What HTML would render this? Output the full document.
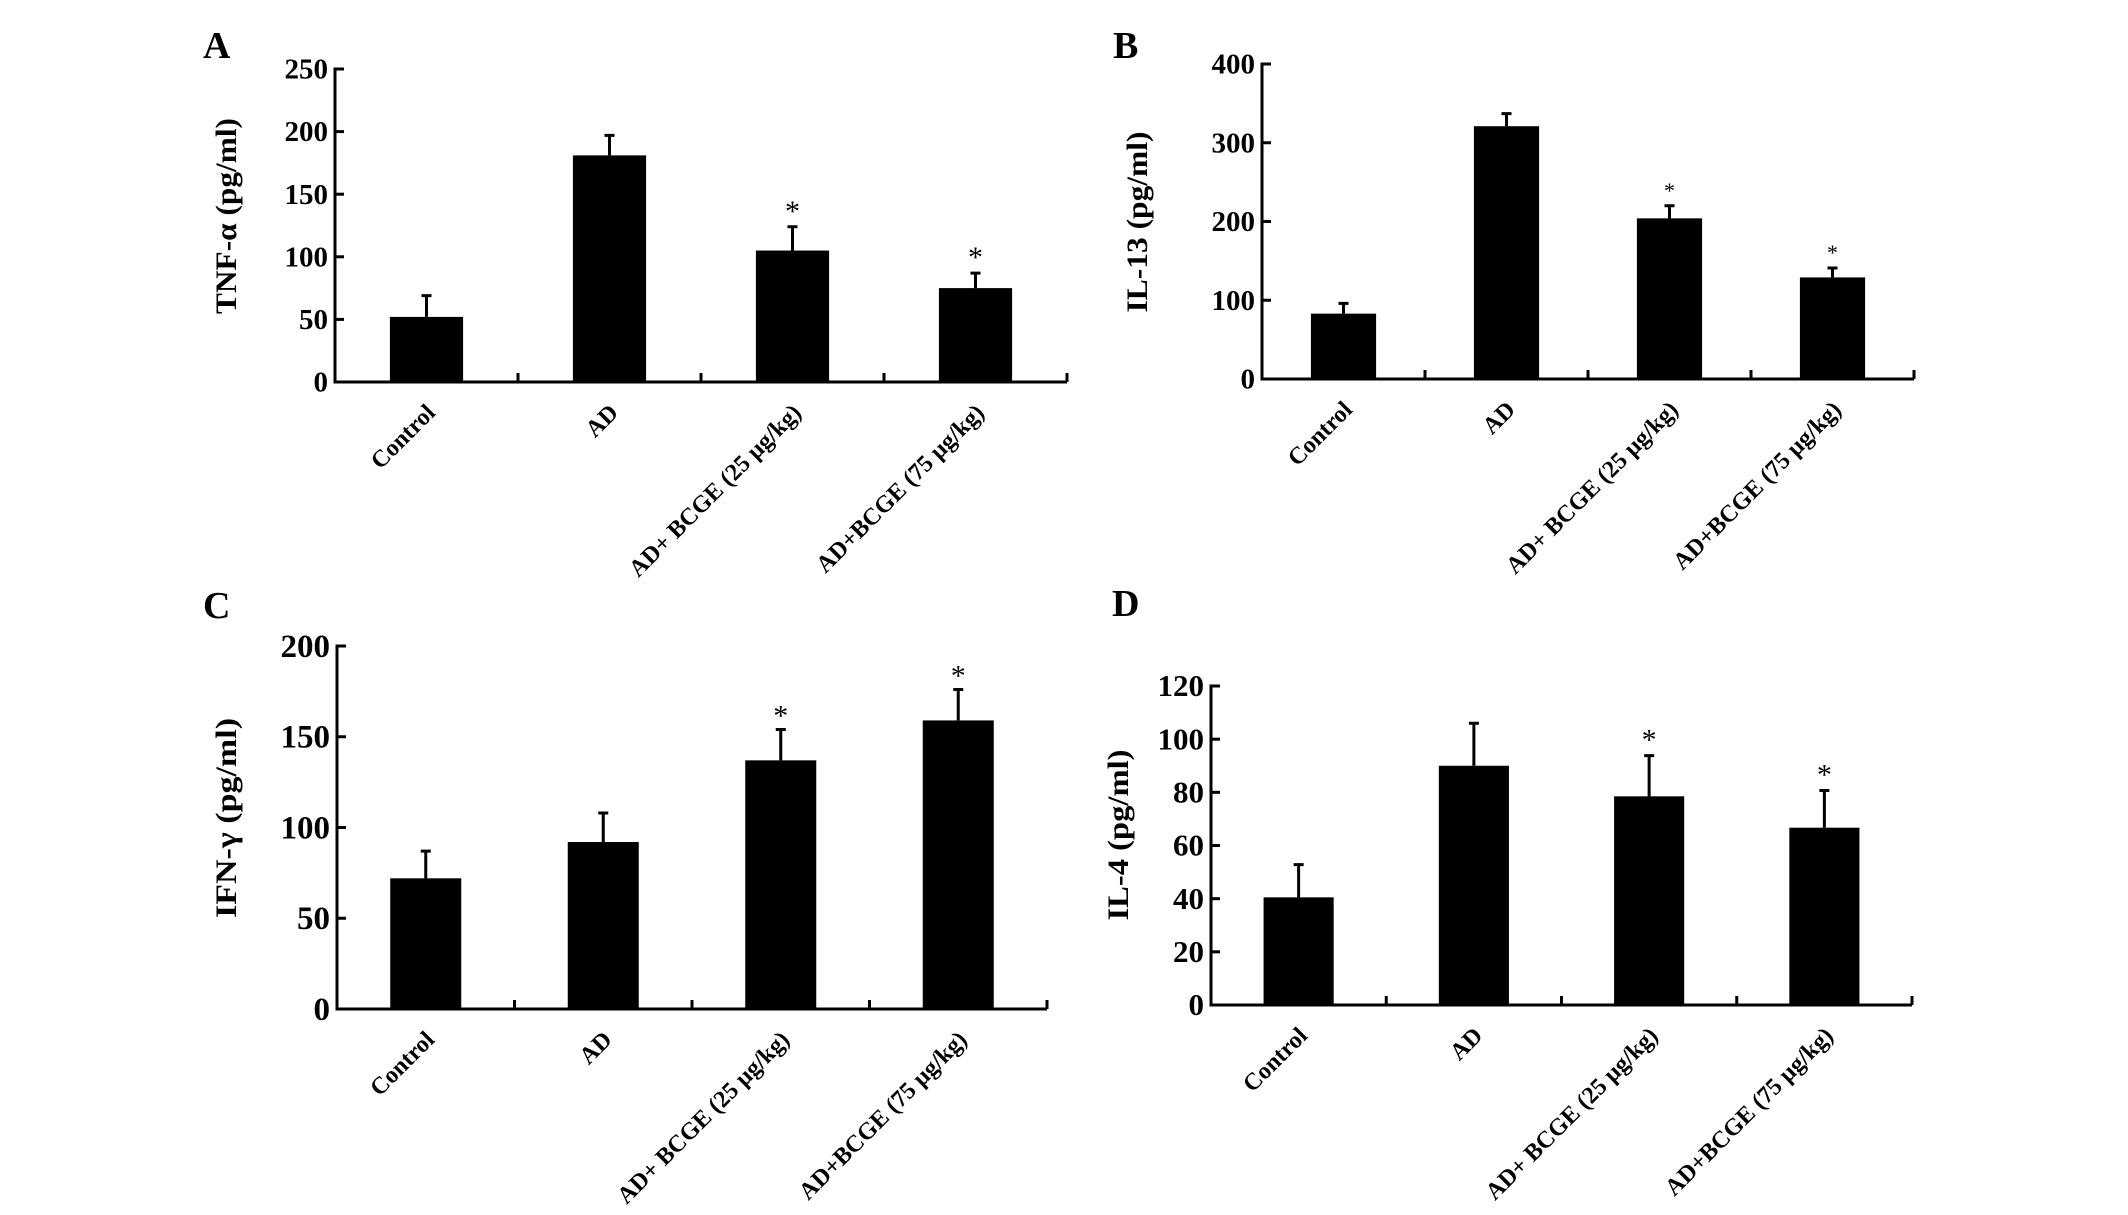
<!DOCTYPE html>
<html><head><meta charset="utf-8"><style>
html,body{margin:0;padding:0;background:#fff;}
svg{display:block;}
text{font-family:"Liberation Serif",serif;font-weight:bold;fill:#000;}
</style></head><body>
<svg id="fig" width="2128" height="1215" viewBox="0 0 2128 1215" xmlns="http://www.w3.org/2000/svg"></svg>
<script>
// ---- data ----
const categories = ["Control","AD","AD+ BCGE (25 \u00b5g/kg)","AD+BCGE (75 \u00b5g/kg)"];
const tnfValues = [52, 181, 105, 75];
const tnfErrors = [17, 16, 19, 12];
const il13Values = [83, 321, 204, 129];
const il13Errors = [13, 16, 16, 12];
const ifnValues = [72, 92, 137, 159];
const ifnErrors = [15, 16, 17, 17];
const il4Values = [40.5, 90, 78.5, 66.7];
const il4Errors = [12.3, 16, 15.3, 14];
const tnfTicks = [0, 50, 100, 150, 200, 250];
const il13Ticks = [0, 100, 200, 300, 400];
const ifnTicks = [0, 50, 100, 150, 200];
const il4Ticks = [0, 20, 40, 60, 80, 100, 120];
const tnfSig = [false, false, true, true];
const il13Sig = [false, false, true, true];
const ifnSig = [false, false, true, true];
const il4Sig = [false, false, true, true];

const NS = "http://www.w3.org/2000/svg";
const svg = document.getElementById("fig");
function mk(tag, attrs, parent) {
  const e = document.createElementNS(NS, tag);
  for (const k in attrs) e.setAttribute(k, attrs[k]);
  (parent || svg).appendChild(e);
  return e;
}

function panel(cfg) {
  const g = mk("g", {});
  
  
  const maxV = cfg.ticks[cfg.ticks.length - 1];
  const yScale = v => cfg.y0 - (v / maxV) * (cfg.y0 - cfg.yTop);
  const band = (cfg.x1 - cfg.x0) / categories.length;
  const xCenter = i => cfg.x0 + band * (i + 0.5);

  const L = mk("text", {x: cfg.lx, y: cfg.ly, "font-size": 38}, g);
  L.textContent = cfg.letter;
  
  

  const T = mk("text", {x: 0, y: 0, "font-size": 30, "text-anchor": "middle",
    transform: `translate(${cfg.tx},${cfg.ty}) rotate(-90)`, textLength: cfg.tlen, lengthAdjust: "spacingAndGlyphs"}, g);
  T.textContent = cfg.title;
  
  

  const ax = mk("path", {d: `M${cfg.x0},${cfg.yTop - 1.5}V${cfg.y0}H${cfg.x1}`, stroke: "#000", "stroke-width": 3, fill: "none"}, g);
  
  

  cfg.ticks.forEach(t => {
    const y = yScale(t);
    const tk = mk("line", {x1: cfg.x0, x2: cfg.x0 + 9, y1: y, y2: y, stroke: "#000", "stroke-width": 3}, g);
    
    
    const lb = mk("text", {x: cfg.x0 - 7, y: y + cfg.tfs * 0.33, "font-size": cfg.tfs, "text-anchor": "end"}, g);
    lb.textContent = t;
    
    
  });
  for (let i = 1; i <= categories.length; i++) {
    const x = cfg.x0 + band * i;
    const tk = mk("line", {x1: x, x2: x, y1: cfg.y0, y2: cfg.y0 - 9, stroke: "#000", "stroke-width": 3}, g);
    
    
  }

  cfg.values.forEach((v, i) => {
    const cx = xCenter(i);
    const w = band * 0.4;
    const top = yScale(v);
    const eTop = yScale(v + cfg.errors[i]);
    const err = mk("path", {d: `M${cx},${top}V${eTop}M${cx - 5},${eTop}H${cx + 5}`, stroke: "#000", "stroke-width": 3, fill: "none"}, g);
    
    
    const b = mk("rect", {x: cx - w / 2, y: top, width: w, height: cfg.y0 - top, fill: "#000"}, g);
    
    
    if (cfg.sig[i]) {
      const s = mk("text", {x: cx, y: eTop - cfg.sOff, "font-size": cfg.sfs, "text-anchor": "middle", style: "font-weight:normal"}, g);
      s.textContent = "*";
      
      
    }
    const xl = mk("text", {x: 0, y: 0, "font-size": 24, "text-anchor": "end",
      transform: `translate(${cx + 10},${cfg.y0 + 32}) rotate(-45)`}, g);
    xl.textContent = categories[i];
    
    
  });
}

panel({letter: "A", lx: 203, ly: 58, title: "TNF-\u03b1 (pg/ml)", tx: 236, ty: 216, tlen: 196,
  x0: 335, x1: 1067, yTop: 69, y0: 382, ticks: tnfTicks, tfs: 29,
  values: tnfValues, errors: tnfErrors, sig: tnfSig, sfs: 30, sOff: 6});
panel({letter: "B", lx: 1113, ly: 58, title: "IL-13 (pg/ml)", tx: 1147, ty: 222, tlen: 181,
  x0: 1262, x1: 1914, yTop: 64, y0: 379, ticks: il13Ticks, tfs: 29,
  values: il13Values, errors: il13Errors, sig: il13Sig, sfs: 22, sOff: 8});
panel({letter: "C", lx: 203, ly: 618, title: "IFN-\u03b3 (pg/ml)", tx: 236, ty: 818, tlen: 200,
  x0: 337, x1: 1047, yTop: 646, y0: 1009, ticks: ifnTicks, tfs: 33,
  values: ifnValues, errors: ifnErrors, sig: ifnSig, sfs: 30, sOff: 4});
panel({letter: "D", lx: 1112, ly: 616, title: "IL-4 (pg/ml)", tx: 1128, ty: 835, tlen: 171,
  x0: 1211, x1: 1912, yTop: 686, y0: 1005, ticks: il4Ticks, tfs: 31,
  values: il4Values, errors: il4Errors, sig: il4Sig, sfs: 30, sOff: 6});
</script>
</body></html>
